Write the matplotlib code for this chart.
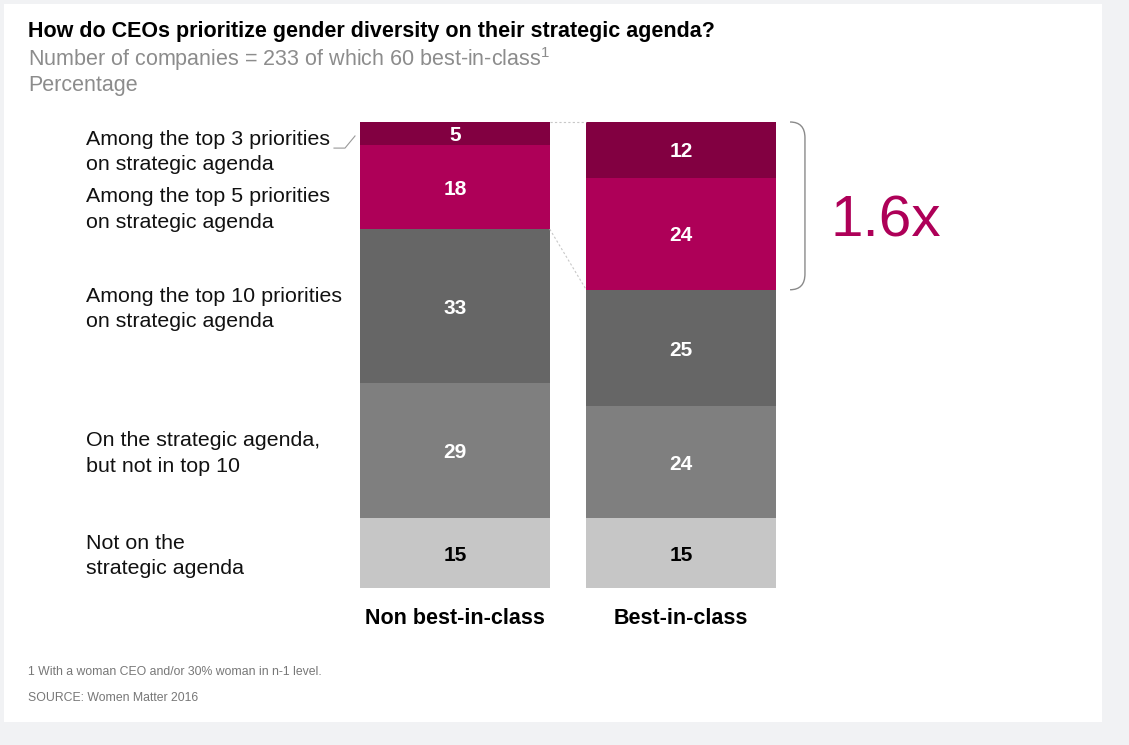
import numpy as np
import matplotlib
matplotlib.use("Agg")
import matplotlib.pyplot as plt
from matplotlib.patches import Rectangle, PathPatch
from matplotlib.path import Path
from matplotlib import transforms

plt.rcParams['font.family'] = ['Liberation Sans', 'DejaVu Sans']
plt.rcParams['mathtext.fontset'] = 'custom'
plt.rcParams['mathtext.rm'] = 'Liberation Sans'

# data (bottom -> top)
groups = ['Non best-in-class', 'Best-in-class']
levels = ['Not on the\nstrategic agenda',
          'On the strategic agenda,\nbut not in top 10',
          'Among the top 10 priorities\non strategic agenda',
          'Among the top 5 priorities\non strategic agenda',
          'Among the top 3 priorities\non strategic agenda']
non_bic = [15, 29, 33, 18, 5]
bic = [15, 24, 25, 24, 12]
colors = ['#c6c6c6', '#7f7f7f', '#666666', '#ae0058', '#820041']
text_colors = ['black', 'white', 'white', 'white', 'white']

W, H = 1129, 745
fig = plt.figure(figsize=(W / 100, H / 100), dpi=100, facecolor='#f1f2f4')

def fx(px):
    return px / W

def fy(py):
    return 1 - py / H

# white panel
fig.patches.append(Rectangle((fx(4), fy(722)), fx(1102) - fx(4), fy(4) - fy(722),
                             transform=fig.transFigure, facecolor='white',
                             edgecolor='none', zorder=-5))

# axes: bars 360..776 px wide, 122..588 px tall
ax = fig.add_axes([fx(360), fy(588), fx(776) - fx(360), fy(122) - fy(588)])
ax.set_zorder(2)
ax.set_facecolor('none')
width = 190 / 226.5
x = np.arange(len(groups))
vals = np.array([non_bic, bic])
bottoms = np.zeros(len(groups))
for i in range(len(levels)):
    ax.bar(x, vals[:, i], width, bottom=bottoms, color=colors[i], edgecolor='none')
    for j in range(len(groups)):
        ax.text(x[j], bottoms[j] + vals[j, i] / 2, str(vals[j, i]), ha='center',
                va='center_baseline', color=text_colors[i], fontsize=15,
                fontweight='bold')
    bottoms += vals[:, i]

ax.set_xlim(-width / 2, 1 + width / 2)
ax.set_ylim(0, 100)
for s in ax.spines.values():
    s.set_visible(False)
ax.set_yticks([])
ax.set_xticks(x, groups, fontsize=15.5, fontweight='bold')
ax.tick_params(axis='x', length=0, pad=14.5)

# connector lines between bars
ax.plot([width / 2, 1 - width / 2], [100, 100], color='#c8c8c8', lw=0.8,
        ls=(0, (2, 2)), clip_on=False)
top_non = 100 - non_bic[-1] - non_bic[-2]
top_bic = 100 - bic[-1] - bic[-2]
ax.plot([width / 2, 1 - width / 2], [top_non, top_bic], color='#c8c8c8', lw=0.8,
        ls=(0, (2, 2)), clip_on=False)

# category labels on the left
blend = transforms.blended_transform_factory(fig.transFigure, ax.transData)
mids = np.cumsum(non_bic) - np.array(non_bic) / 2
label_y = list(mids - 0.6)
label_y[4] = 93.6
label_y[3] = 81.2
for lab, yy in zip(levels, label_y):
    ax.text(fx(86), yy, lab, transform=blend, ha='left', va='center',
            fontsize=15.4, color='#111111', linespacing=1.43, clip_on=False)

# leader line for top label
lx = [fx(334), fx(345), fx(355)]
ly = [94.4, 94.4, 97.0]
ax.plot(lx, ly, transform=blend, color='#999999', lw=0.8, clip_on=False)

# bracket on the right
x0 = 1 + width / 2 + 0.062
x1 = x0 + 0.066
r_y = 3.4
ytop, ybot = 100, top_bic
verts = [(x0, ytop), (x1, ytop), (x1, ytop - r_y),
         (x1, ybot + r_y), (x1, ybot), (x0, ybot)]
codes = [Path.MOVETO, Path.CURVE3, Path.CURVE3, Path.LINETO, Path.CURVE3, Path.CURVE3]
ax.add_patch(PathPatch(Path(verts, codes), facecolor='none', edgecolor='#8a8a8a',
                       lw=1.0, clip_on=False))
ax.text(x1 + 0.115, (ytop + ybot) / 2 - 6.5, '1.6x', ha='left', va='baseline',
        fontsize=42, color='#ae0058', clip_on=False)

# titles
fig.text(fx(28), fy(31.5), 'How do CEOs prioritize gender diversity on their strategic agenda?',
         ha='left', va='center', fontsize=15.5, fontweight='bold', color='black')
fig.text(fx(28), fy(59), 'Number of companies = 233 of which 60 best-in-class$^{1}$',
         ha='left', va='center', fontsize=15.5, color='#8c8c8c')
fig.text(fx(28), fy(85), 'Percentage', ha='left', va='center', fontsize=15.5,
         color='#8c8c8c')

# footnotes
fig.text(fx(28), fy(672), '1 With a woman CEO and/or 30% woman in n-1 level.',
         ha='left', va='center', fontsize=8.8, color='#777777')
fig.text(fx(28), fy(698), 'SOURCE: Women Matter 2016',
         ha='left', va='center', fontsize=8.8, color='#777777')

fig.savefig('out.png', dpi=100, facecolor=fig.get_facecolor())
